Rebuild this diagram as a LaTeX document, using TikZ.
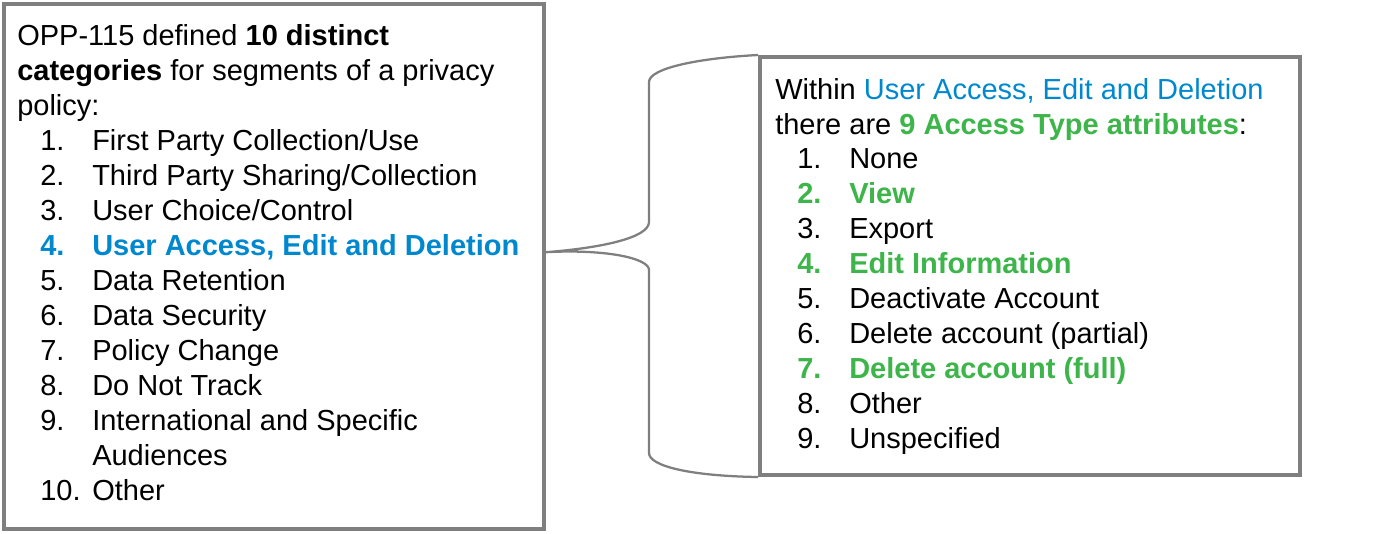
\documentclass[tikz,border=0pt]{standalone}
\usepackage{fontspec}
\setmainfont{Liberation Sans}
\usetikzlibrary{fit}
\definecolor{boxgray}{HTML}{7F7F7F}
\definecolor{catblue}{HTML}{0088CE}
\definecolor{attgreen}{HTML}{3DB54A}
\tikzset{
  box/.style={draw=boxgray, line width=3pt, inner sep=0pt},
  txt/.style={anchor=base west, inner sep=0pt, font=\fontsize{21.75}{26}\selectfont},
  catpick/.style={txt, text=catblue, font=\fontsize{21.75}{26}\selectfont\bfseries},
  attpick/.style={txt, text=attgreen, font=\fontsize{21.75}{26}\selectfont\bfseries},
  brace/.style={draw=boxgray, line width=1.7pt},
}
\begin{document}
\begin{tikzpicture}[x=0.75pt, y=-0.75pt]
    \useasboundingbox (0,0) rectangle (1391,533);
    \node[box, fit={(4,4) (544,529)}] (cats) {};
    \node[box, fit={(760,57) (1300,475)}] (attrs) {};
    % left box: the ten categories
    \node[txt] (cathead1) at (17,45.7) {OPP-115 defined \textbf{10 distinct}};
    \node[txt] (cathead2) at (17,80.7) {\textbf{categories} for segments of a privacy};
    \node[txt] (cathead3) at (17,115.7) {policy:};
    \foreach \n/\t/\s in {1/{First Party Collection/Use}/txt,
        2/{Third Party Sharing/Collection}/txt, 3/{User Choice/Control}/txt,
        4/{User Access, Edit and Deletion}/catpick, 5/Data Retention/txt,
        6/Data Security/txt, 7/Policy Change/txt, 8/Do Not Track/txt,
        9/International and Specific/txt} {
      \node[\s] (catnum\n) at (40,{150.7+35*(\n-1)}) {\n.};
      \node[\s] (cat\n) at (92,{150.7+35*(\n-1)}) {\t};
    }
    \node[txt] (cat9b) at (92,465.7) {Audiences};
    \node[txt] (catnum10) at (40,500.7) {10.};
    \node[txt] (cat10) at (92,500.7) {Other};
    % right box: the access types
    \node[txt] (atthead1) at (775,99) {Within \textcolor{catblue}{User Access, Edit and Deletion}};
    \node[txt] (atthead2) at (775,134) {there are \textcolor{attgreen}{\textbf{9 Access Type attributes}}:};
    \foreach \n/\t/\s in {1/None/txt, 2/View/attpick, 3/Export/txt,
        4/Edit Information/attpick, 5/Deactivate Account/txt,
        6/Delete account (partial)/txt, 7/Delete account (full)/attpick,
        8/Other/txt, 9/Unspecified/txt} {
      \node[\s] (attnum\n) at (797,{168.5+35*(\n-1)}) {\n.};
      \node[\s] (att\n) at (849,{168.5+35*(\n-1)}) {\t};
    }
    % brace from category 4 to the right box
    \coordinate (tip) at (cats.east |- cat4.mid);
    \path[brace] (attrs.north west) .. controls (700,58) and (649,68) .. (649,82)
      -- (649,222) .. controls (649,238) and (600,248) .. (tip)
      .. controls (605,249) and (649,258) .. (649,270)
      -- (649,453) .. controls (649,466) and (690,476) .. (attrs.south west);
\end{tikzpicture}
\end{document}
